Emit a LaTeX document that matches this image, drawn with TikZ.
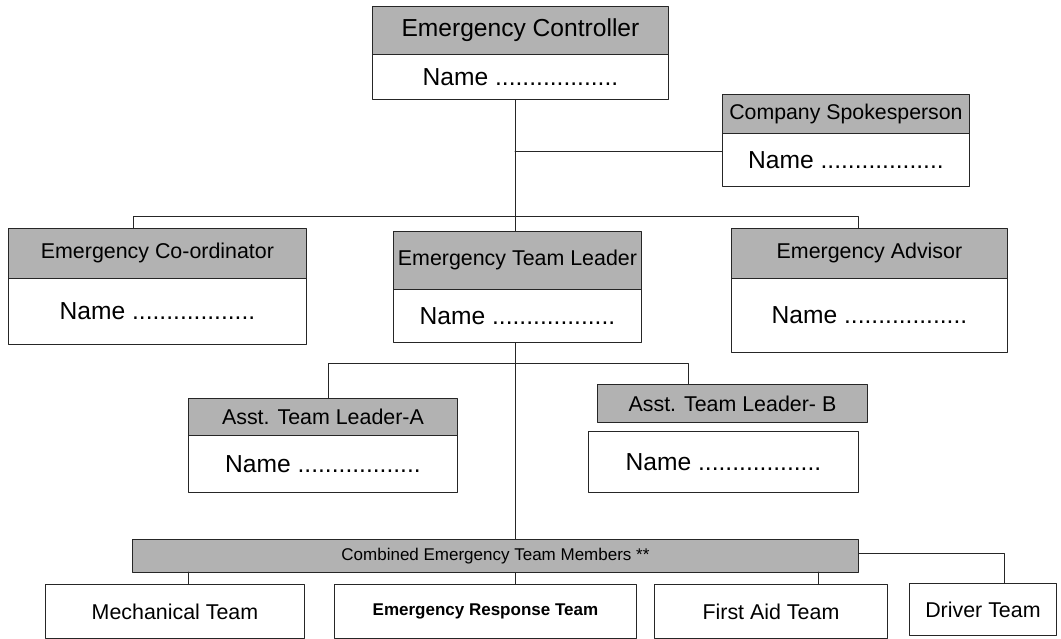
\documentclass[tikz,border=0pt]{standalone}
\usepackage{fontspec}
\setmainfont{Liberation Sans}
\definecolor{boxgray}{RGB}{178,178,178}
\begin{document}
\begin{tikzpicture}[x=1pt, y=-1pt, line join=round, line cap=round, line width=0.9pt,
	box/.style={draw=black!85, anchor=north west, inner sep=0pt, align=center},
	hdr/.style={box, fill=boxgray, font=\fontsize{21.4}{25}\selectfont},
	namebox/.style={box, fill=white, font=\fontsize{24.6}{29}\selectfont},
	teambox/.style={box, fill=white, font=\fontsize{21.4}{25}\selectfont},
	wh/.style 2 args={minimum width=#1pt, minimum height=#2pt}]
	\useasboundingbox (0,0) rectangle (1061,639);
	% top level
	\node[hdr, wh={296}{48}, font=\fontsize{24.6}{29}\selectfont] (ctrlH) at (372,6) {Emergency Controller};
	\node[namebox, wh={296}{45}] (ctrlN) at (372,54) {Name ..................};
	\node[hdr, wh={247}{39}, font=\fontsize{21.3}{25}\selectfont] (spokeH) at (722,94) {Company Spokesperson};
	\node[namebox, wh={247}{53}] (spokeN) at (722,133) {Name ..................};
	% second level
	\node[hdr, wh={298}{50}] (coordH) at (8,228) {Emergency Co-ordinator};
	\node[namebox, wh={298}{66}] (coordN) at (8,278) {Name ..................};
	\node[hdr, wh={248}{58}] (tlH) at (393,231) {Emergency Team Leader};
	\node[namebox, wh={248}{53}] (tlN) at (393,289) {Name ..................};
	\node[hdr, wh={276}{50}] (advH) at (731,228) {Emergency Advisor};
	\node[namebox, wh={276}{74}] (advN) at (731,278) {Name ..................};
	% assistants
	\node[hdr, wh={269}{37}] (asstAH) at (188,398) {Asst. Team Leader-A};
	\node[namebox, wh={269}{57}] (asstAN) at (188,435) {Name ..................};
	\node[hdr, wh={270}{38}] (asstBH) at (597,384) {Asst. Team Leader- B};
	\node[namebox, wh={270}{61}] (asstBN) at (588,431) {Name ..................};
	% team members
	\node[hdr, wh={726}{33}, font=\fontsize{17}{20}\selectfont] (team) at (132,539) {Combined Emergency Team Members **};
	\node[teambox, wh={259}{54}] (mech) at (45,584) {Mechanical Team};
	\node[teambox, wh={302}{54}, font=\fontsize{17}{20}\selectfont\bfseries] (ert) at (334,584) {Emergency Response Team};
	\node[teambox, wh={233}{54}] (aid) at (654,584) {First Aid Team};
	\node[teambox, wh={147}{52}] (drv) at (909,583) {Driver Team};
	% junction points
	\coordinate (spine) at (515,151);
	\coordinate (busL) at (133,216);
	\coordinate (busR) at (858,216);
	\coordinate (asstL) at (328,363);
	\coordinate (asstR) at (688,363);
	\coordinate (mechJ) at (188,572);
	\coordinate (aidJ) at (818,572);
	\coordinate (drvJ) at (1004,553);
	% connectors
	\draw[black!85] (spine |- ctrlN.south) -- (spine |- tlH.north)
		(spine) -- (spine -| spokeN.west)
		(coordH.north -| busL) -- (busL) -- (busR) -- (busR |- advH.north)
		(spine |- tlN.south) -- (spine |- team.north)
		(asstAH.north -| asstL) -- (asstL) -- (asstR) -- (asstR |- asstBH.north)
		(mechJ) -- (mechJ |- mech.north)
		(spine |- team.south) -- (spine |- ert.north)
		(aidJ) -- (aidJ |- aid.north)
		(drvJ -| team.east) -- (drvJ) -- (drvJ |- drv.north);
\end{tikzpicture}
\end{document}
